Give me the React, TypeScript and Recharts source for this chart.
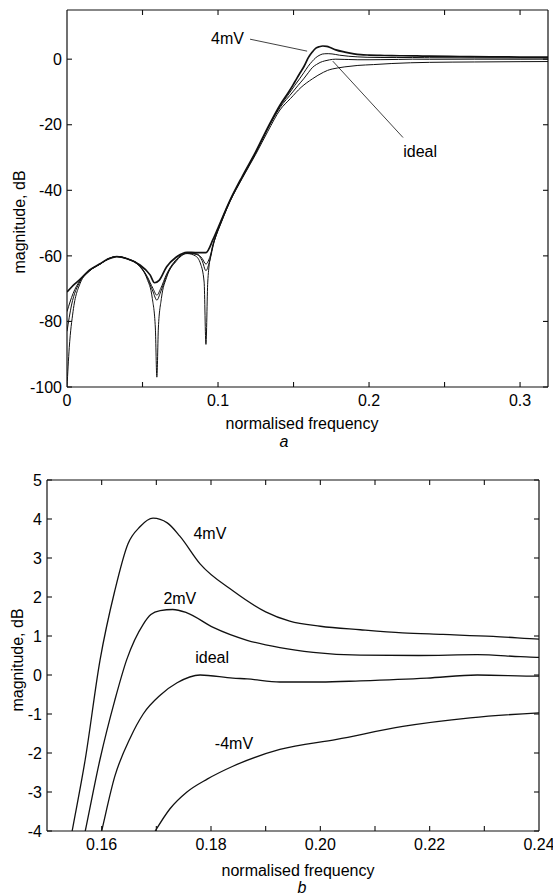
import React from 'react';
import { LineChart, Line, XAxis, YAxis, ReferenceLine, ReferenceDot } from 'recharts';

const FONT = '"Liberation Sans", Arial, Helvetica, sans-serif';
const INK = '#111';

type Pt = [number, number];

// ---- series: [normalised frequency, magnitude dB] ----
const curve4mV: Pt[] = [
  [0, -71], [0.005, -68.6], [0.0086, -67.2], [0.015, -64.3], [0.0219, -62.4], [0.027, -61], [0.033, -60.2],
  [0.04, -60.9], [0.048, -62.7], [0.055, -65.8], [0.058, -68.2], [0.061, -67.5], [0.066, -63.3], [0.072, -60.5],
  [0.0795, -58.9], [0.085, -59], [0.092, -59], [0.0967, -55], [0.1, -51.5], [0.108, -43], [0.116, -35.8],
  [0.125, -28.2], [0.133, -20.8], [0.141, -14], [0.1468, -10], [0.1495, -8], [0.152, -6], [0.1546, -4],
  [0.157, -2.16], [0.1597, 0.38], [0.1624, 2.16], [0.1648, 3.36], [0.167, 3.8], [0.1694, 4.02], [0.172, 3.9],
  [0.1743, 3.56], [0.178, 2.85], [0.184, 2.16], [0.19, 1.62], [0.1944, 1.38], [0.2, 1.25], [0.2073, 1.16],
  [0.215, 1.08], [0.2224, 1.04], [0.2316, 0.99], [0.24, 0.92], [0.26, 0.82], [0.28, 0.72], [0.3, 0.65], [0.3185, 0.6],
];

const curve2mV: Pt[] = [
  [0, -77], [0.004, -71.5], [0.0086, -67.5], [0.015, -64.4], [0.0219, -62.5], [0.027, -61], [0.033, -60.2],
  [0.04, -60.9], [0.048, -63], [0.053, -66.5], [0.057, -71], [0.0595, -73.5], [0.062, -71], [0.066, -66],
  [0.072, -61.5], [0.0795, -59.2], [0.086, -59.6], [0.0895, -61.5], [0.092, -64.5], [0.0945, -61.5], [0.0975, -55.5],
  [0.1, -52], [0.108, -43], [0.116, -36], [0.125, -28.4], [0.133, -21], [0.141, -14.4], [0.1478, -10],
  [0.1508, -8], [0.154, -6], [0.157, -4], [0.1597, -2.16], [0.1624, -0.65], [0.1646, 0.4], [0.1676, 1.3],
  [0.169, 1.55], [0.1707, 1.65], [0.173, 1.68], [0.1755, 1.6], [0.1804, 1.22], [0.1866, 0.89], [0.1926, 0.7],
  [0.1987, 0.58], [0.2073, 0.51], [0.218, 0.5], [0.2287, 0.52], [0.2366, 0.47], [0.24, 0.45], [0.27, 0.4],
  [0.3, 0.36], [0.3185, 0.35],
];

const curveIdeal: Pt[] = [
  [0, -100], [0.0015, -88], [0.004, -77], [0.0086, -68.5], [0.015, -64.6], [0.0219, -62.5], [0.027, -61],
  [0.033, -60.2], [0.04, -61], [0.048, -63.2], [0.053, -67], [0.0565, -73], [0.0585, -82], [0.0595, -97],
  [0.0605, -82], [0.0625, -73], [0.066, -66.5], [0.072, -61.8], [0.0795, -59.3], [0.085, -60], [0.0885, -62.5],
  [0.0908, -68], [0.092, -87], [0.0932, -68], [0.0955, -59], [0.0985, -54], [0.102, -50], [0.108, -43.2],
  [0.116, -36.2], [0.125, -28.6], [0.133, -21.2], [0.141, -14.8], [0.1495, -10], [0.153, -8], [0.1567, -6],
  [0.16, -4], [0.1624, -2.6], [0.1652, -1.62], [0.1676, -1.0], [0.1707, -0.52], [0.1738, -0.2], [0.178, 0],
  [0.184, -0.08], [0.1866, -0.1], [0.1926, -0.18], [0.2, -0.18], [0.2073, -0.15], [0.2195, -0.08], [0.2287, 0],
  [0.24, -0.03], [0.27, 0], [0.3, -0.02], [0.3185, 0],
];

const curveMinus4mV: Pt[] = [
  [0, -83], [0.003, -75], [0.0086, -67.8], [0.015, -64.5], [0.0219, -62.5], [0.027, -61], [0.033, -60.2],
  [0.04, -60.9], [0.048, -62.9], [0.053, -66.2], [0.057, -70], [0.0595, -72], [0.062, -70], [0.066, -65.5],
  [0.072, -61.3], [0.0795, -59.1], [0.086, -59.4], [0.0895, -60.8], [0.092, -62.5], [0.0945, -60.5],
  [0.0975, -55.5], [0.1, -52.3], [0.108, -43.4], [0.116, -36.4], [0.125, -29], [0.133, -22], [0.141, -15.5],
  [0.148, -12], [0.155, -8.6], [0.1625, -6], [0.1698, -4], [0.1725, -3.43], [0.1756, -3.0], [0.1793, -2.67],
  [0.184, -2.34], [0.1926, -1.91], [0.203, -1.65], [0.2151, -1.32], [0.2274, -1.1], [0.24, -0.97],
  [0.27, -0.85], [0.3, -0.76], [0.3185, -0.72],
];

// ---- axes ----
const topXDomain: [number, number] = [0, 0.3185];
const topYDomain: [number, number] = [-100, 15];
const topXLabelTicks = [0, 0.1, 0.2, 0.3];
const topXMinorTicks = [0.05, 0.1, 0.15, 0.2, 0.25, 0.3];
const topYTicks = [-100, -80, -60, -40, -20, 0];

const botXDomain: [number, number] = [0.15, 0.24];
const botYDomain: [number, number] = [-4, 5];
const botXLabelTicks = [0.16, 0.18, 0.2, 0.22, 0.24];
const botXMinorTicks = [0.16, 0.17, 0.18, 0.19, 0.2, 0.21, 0.22, 0.23];
const botYTicks = [-4, -3, -2, -1, 0, 1, 2, 3, 4, 5];

// ---- annotations ----
const topNotes = [
  { text: '4mV', f: 0.1063, db: 6.4 },
  { text: 'ideal', f: 0.2338, db: -28.1 },
];
const topLeaders: [Pt, Pt][] = [
  [[0.1212, 6.1], [0.159, 2.45]],
  [[0.2225, -23.9], [0.176, -0.6]],
];
const botNotes = [
  { text: '4mV', f: 0.1798, db: 3.64 },
  { text: '2mV', f: 0.1743, db: 1.97 },
  { text: 'ideal', f: 0.1802, db: 0.46 },
  { text: '-4mV', f: 0.1842, db: -1.74 },
];

const rows = (pts: Pt[]) => pts.map(([f, db]) => ({ f, db }));

const tickStyle = { fill: '#000', fontSize: 16, fontFamily: FONT };
const blankTick = { fill: 'none', fontSize: 1 };
const blank = () => '';

const makeXTitle = (x: number, y: number, lx: number, ly: number, letter: string) => () => (
  <g>
    <text x={x} y={y} textAnchor="middle" fill="#000" fontSize={16} fontFamily={FONT}>normalised frequency</text>
    <text x={lx} y={ly} textAnchor="middle" fill="#000" fontSize={16} fontStyle="italic" fontFamily={FONT}>{letter}</text>
  </g>
);

const makeYTitle = (x: number, y: number) => () => (
  <text x={x} y={y} textAnchor="middle" transform={`rotate(-90, ${x}, ${y})`} fill="#000" fontSize={16} fontFamily={FONT}>
    magnitude, dB
  </text>
);

function frameAxes(o: {
  xDomain: [number, number]; yDomain: [number, number]; xLabelTicks: number[]; xMinorTicks: number[];
  yTicks: number[]; xFmt: (v: number) => string; xHeight: number; yWidth: number; xLabel: any; yLabel: any;
}) {
  return [
    <XAxis key="xb" xAxisId="x" dataKey="f" type="number" domain={o.xDomain} allowDataOverflow ticks={o.xLabelTicks}
      tickFormatter={o.xFmt} interval={0} tick={tickStyle} tickLine={false} tickSize={0} tickMargin={8}
      axisLine={{ stroke: INK, strokeWidth: 1.2 }} height={o.xHeight} label={o.xLabel} />,
    <XAxis key="xbm" xAxisId="xm" dataKey="f" type="number" domain={o.xDomain} allowDataOverflow ticks={o.xMinorTicks}
      interval={0} tick={blankTick} tickFormatter={blank} tickLine={{ stroke: INK, strokeWidth: 1.1 }} tickSize={5}
      axisLine={false} mirror height={1} />,
    <XAxis key="xt" xAxisId="xt" orientation="top" dataKey="f" type="number" domain={o.xDomain} allowDataOverflow
      ticks={o.xMinorTicks} interval={0} tick={blankTick} tickFormatter={blank}
      tickLine={{ stroke: INK, strokeWidth: 1.1 }} tickSize={5} axisLine={{ stroke: INK, strokeWidth: 1.2 }}
      mirror height={1} />,
    <YAxis key="yl" yAxisId="y" type="number" domain={o.yDomain} allowDataOverflow ticks={o.yTicks} interval={0}
      tick={tickStyle} tickLine={false} tickSize={0} tickMargin={5} axisLine={{ stroke: INK, strokeWidth: 1.2 }}
      width={o.yWidth} label={o.yLabel} />,
    <YAxis key="ylm" yAxisId="ym" type="number" domain={o.yDomain} allowDataOverflow ticks={o.yTicks} interval={0}
      tick={blankTick} tickFormatter={blank} tickLine={{ stroke: INK, strokeWidth: 1.1 }} tickSize={5}
      axisLine={false} mirror width={1} />,
    <YAxis key="yr" yAxisId="yr" orientation="right" type="number" domain={o.yDomain} allowDataOverflow ticks={o.yTicks}
      interval={0} tick={blankTick} tickFormatter={blank} tickLine={{ stroke: INK, strokeWidth: 1.1 }} tickSize={5}
      axisLine={{ stroke: INK, strokeWidth: 1.2 }} mirror width={1} />,
  ];
}

const seriesList = [
  { name: '4mV', pts: curve4mV, topWidth: 1.7 },
  { name: '2mV', pts: curve2mV, topWidth: 1.0 },
  { name: 'ideal', pts: curveIdeal, topWidth: 1.0 },
  { name: '-4mV', pts: curveMinus4mV, topWidth: 1.0 },
];

export default function App() {
  return (
    <div style={{ position: 'absolute', left: 0, top: 0, width: 553, height: 895, background: '#fff', fontFamily: FONT }}>
      <div style={{ position: 'absolute', left: 0, top: 0 }}>
        <LineChart width={553} height={460} margin={{ top: 10, right: 5, bottom: 0, left: 0 }}>
          {frameAxes({
            xDomain: topXDomain, yDomain: topYDomain, xLabelTicks: topXLabelTicks, xMinorTicks: topXMinorTicks,
            yTicks: topYTicks, xFmt: (v: number) => (v === 0 ? '0' : String(v)), xHeight: 73, yWidth: 67,
            xLabel: makeXTitle(302, 429, 284, 447, 'a'), yLabel: makeYTitle(25, 222),
          })}
          {seriesList.map((s) => (
            <Line key={s.name} name={s.name} data={rows(s.pts)} dataKey="db" xAxisId="x" yAxisId="y" type="monotone"
              dot={false} activeDot={false} stroke={INK} strokeWidth={s.topWidth} isAnimationActive={false} />
          ))}
          {topLeaders.map((seg, i) => (
            <ReferenceLine key={`tl${i}`} xAxisId="x" yAxisId="y" ifOverflow="visible" stroke={INK} strokeWidth={0.8}
              segment={[{ x: seg[0][0], y: seg[0][1] }, { x: seg[1][0], y: seg[1][1] }]} />
          ))}
          {topNotes.map((n) => (
            <ReferenceDot key={`tn${n.text}`} xAxisId="x" yAxisId="y" x={n.f} y={n.db} r={0} ifOverflow="visible"
              fill="none" stroke="none"
              label={{ value: n.text, position: 'center', fill: '#000', fontSize: 16, fontFamily: FONT }} />
          ))}
        </LineChart>
      </div>
      <div style={{ position: 'absolute', left: 0, top: 460 }}>
        <LineChart width={553} height={435} margin={{ top: 20, right: 14, bottom: 0, left: 0 }}>
          {frameAxes({
            xDomain: botXDomain, yDomain: botYDomain, xLabelTicks: botXLabelTicks, xMinorTicks: botXMinorTicks,
            yTicks: botYTicks, xFmt: (v: number) => v.toFixed(2), xHeight: 64, yWidth: 47,
            xLabel: makeXTitle(298, 416, 302, 433, 'b'), yLabel: makeYTitle(23, 200),
          })}
          {seriesList.map((s) => (
            <Line key={s.name} name={s.name} data={rows(s.pts)} dataKey="db" xAxisId="x" yAxisId="y" type="monotone"
              dot={false} activeDot={false} stroke={INK} strokeWidth={1.3} isAnimationActive={false} />
          ))}
          {botNotes.map((n) => (
            <ReferenceDot key={`bn${n.text}`} xAxisId="x" yAxisId="y" x={n.f} y={n.db} r={0} ifOverflow="visible"
              fill="none" stroke="none"
              label={{ value: n.text, position: 'center', fill: '#000', fontSize: 16, fontFamily: FONT }} />
          ))}
        </LineChart>
      </div>
    </div>
  );
}
